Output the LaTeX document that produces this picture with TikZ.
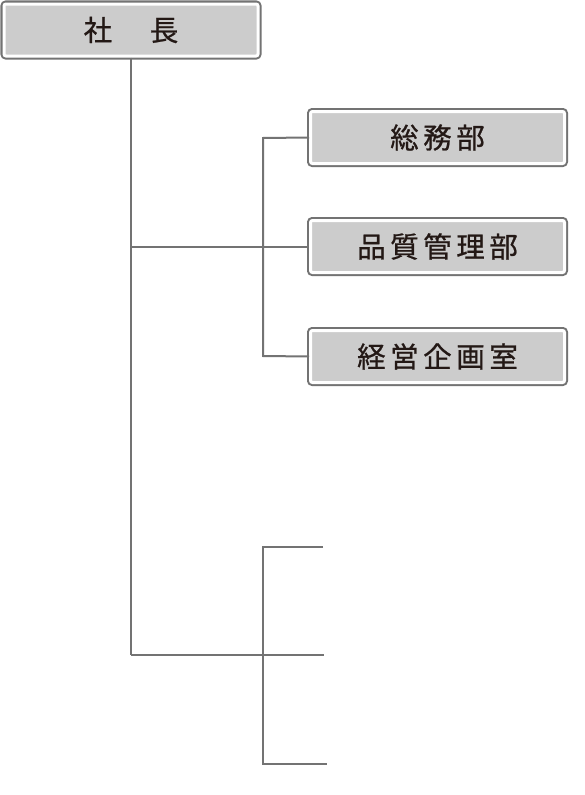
\documentclass[tikz,border=0pt]{standalone}
\usepackage{fontspec}
\newfontfamily\jp{Noto Sans CJK JP}[LetterSpace=16,FakeBold=0.8]
\definecolor{linegray}{HTML}{737373}
\definecolor{boxgray}{HTML}{CCCCCC}
\definecolor{txt}{HTML}{231815}
\begin{document}
\begin{tikzpicture}[x=1pt,y=-1pt,
  orgbox/.style={preaction={draw=linegray,line width=7pt},fill=boxgray,draw=white,line width=3pt,
    rounded corners=2pt,minimum width=254pt,minimum height=52pt,inner sep=0pt,
    text=txt,font=\jp\fontsize{28.5}{32}\selectfont},
  conn/.style={draw=linegray,line width=2pt}]
\useasboundingbox (0,0) rectangle (585,795);
\node[orgbox] (ceo) at (131,30) {社　長};
\node[orgbox] (d1) at (437.5,137.5) {総務部};
\node[orgbox] (d2) at (437.5,246.5) {品質管理部};
\node[orgbox] (d3) at (437.5,356.5) {経営企画室};
\coordinate (mainend) at (131,655);
\coordinate (v2top) at (263,138);
\coordinate (v2bot) at (263,356);
\coordinate (v3top) at (263,547);
\coordinate (v3bot) at (263,764);
\coordinate (e1) at (323,547);
\coordinate (e2) at (324,655);
\coordinate (e3) at (327,764);
\draw[conn] (ceo.south) -- (mainend);
\draw[conn] (131,246.5) -- (d2.west);
\draw[conn] (d1.west) -- (v2top) -- (v2bot) -- (d3.west);
\draw[conn] (mainend) -- (e2);
\draw[conn] (e1) -- (v3top) -- (v3bot) -- (e3);
\end{tikzpicture}
\end{document}
